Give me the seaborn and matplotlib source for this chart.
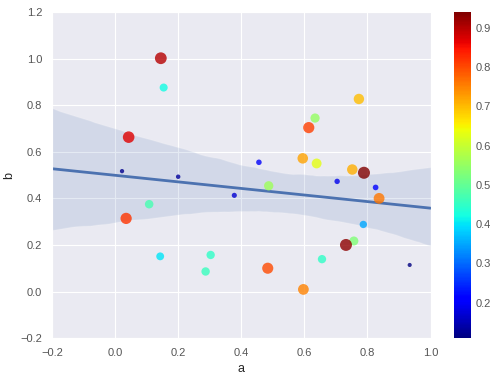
import matplotlib
matplotlib.use('Agg')
import matplotlib.pyplot as plt
import pandas as pd
import seaborn as sns

# point data
a = [0.145, 0.154, 0.043, 0.022, 0.200, 0.378, 0.773, 0.634, 0.614, 0.595,
     0.639, 0.456, 0.752, 0.789, 0.704, 0.826, 0.487, 0.837, 0.108, 0.035,
     0.143, 0.303, 0.287, 0.787, 0.757, 0.732, 0.656, 0.484, 0.597, 0.934]
b = [1.002, 0.876, 0.663, 0.517, 0.493, 0.413, 0.827, 0.745, 0.704, 0.572,
     0.550, 0.555, 0.524, 0.510, 0.473, 0.447, 0.454, 0.400, 0.375, 0.314,
     0.151, 0.157, 0.086, 0.288, 0.217, 0.200, 0.139, 0.100, 0.009, 0.114]
c = [0.90, 0.42, 0.87, 0.12, 0.13, 0.17, 0.70, 0.55, 0.81, 0.72,
     0.63, 0.20, 0.71, 0.94, 0.19, 0.21, 0.56, 0.76, 0.47, 0.82,
     0.40, 0.45, 0.46, 0.35, 0.53, 0.93, 0.45, 0.80, 0.75, 0.11]

df = pd.DataFrame({'a': a, 'b': b, 'c': c})

sns.set_style('darkgrid')
plt.rcParams['font.family'] = ['Liberation Sans', 'DejaVu Sans']

fig = plt.figure(figsize=(5, 3.79), dpi=100)
ax = fig.add_axes([0.104, 0.108, 0.757, 0.860])
cax = fig.add_axes([0.908, 0.108, 0.034, 0.860])

ax.set_xlim(-0.2, 1.0)
ax.set_ylim(-0.2, 1.2)
sns.regplot(x='a', y='b', data=df, scatter=False, truncate=False, ax=ax, seed=0,
            color='#4c72b0', line_kws={'lw': 2})
sc = ax.scatter(df['a'], df['b'], c=df['c'], s=df['c'] * 80, cmap='jet', alpha=0.8,
                linewidths=0, zorder=3)
ax.set_xlim(-0.2, 1.0)
ax.set_ylim(-0.2, 1.2)
ax.set_xlabel('a', fontsize=9)
ax.set_ylabel('b', fontsize=9)
ax.tick_params(labelsize=8, colors='#555555')

# colorbar drawn opaque, like the reference
sm = plt.cm.ScalarMappable(norm=sc.norm, cmap='jet')
cb = fig.colorbar(sm, cax=cax)
cb.outline.set_visible(False)
cax.tick_params(labelsize=8, colors='#555555', length=0)

fig.savefig('out.png')
